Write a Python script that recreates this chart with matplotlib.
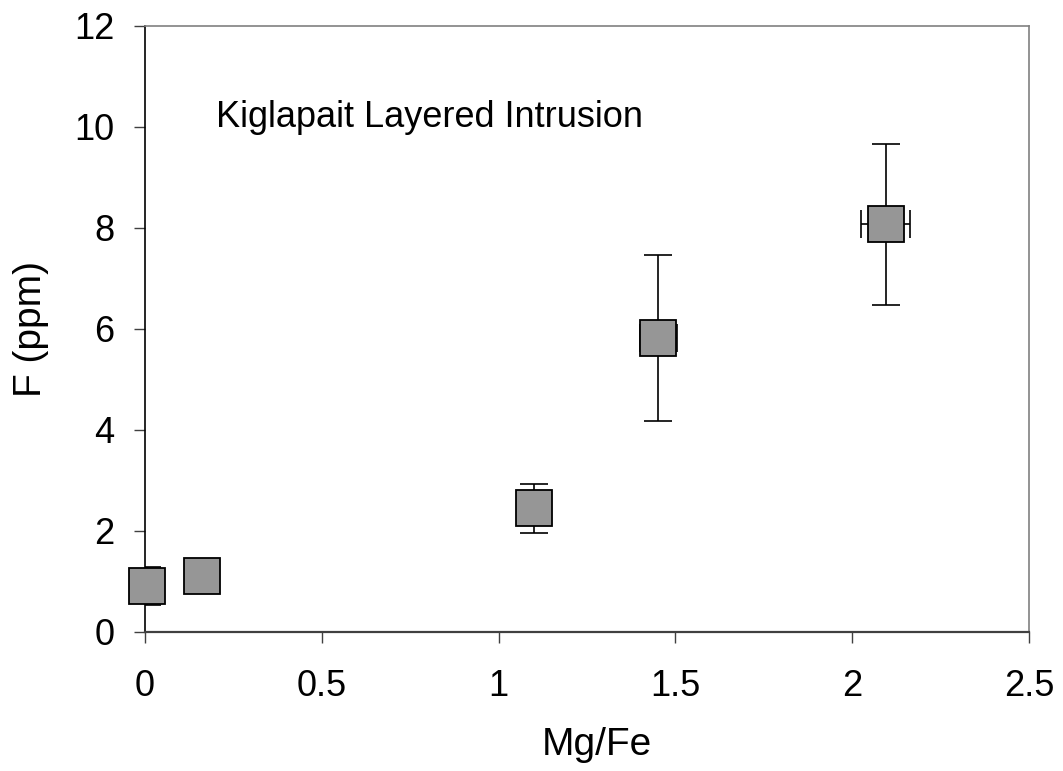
import matplotlib.pyplot as plt

plt.rcParams['font.family'] = ['Liberation Sans', 'DejaVu Sans']

# Kiglapait samples: Mg/Fe ratio vs fluorine content
mg_fe = [0.005, 0.16, 1.10, 1.452, 2.095]
f_ppm = [0.91, 1.11, 2.45, 5.82, 8.07]
f_err = [0.37, 0.0, 0.48, 1.64, 1.60]
mg_fe_err = [0.0, 0.0, 0.0, 0.052, 0.07]

x_ticks = [0, 0.5, 1, 1.5, 2, 2.5]
x_tick_labels = ['0', '0.5', '1', '1.5', '2', '2.5']
y_ticks = [0, 2, 4, 6, 8, 10, 12]

fig = plt.figure(figsize=(10.63, 7.71), dpi=100)
ax = fig.add_axes([0.1364, 0.1803, 0.8315, 0.786])

ax.errorbar(mg_fe, f_ppm, yerr=f_err, xerr=mg_fe_err, fmt='none',
            ecolor='black', elinewidth=1.2, capsize=10, capthick=1.2, zorder=2)
ax.plot(mg_fe, f_ppm, linestyle='none', marker='s', markersize=25.5,
        markerfacecolor='#969696', markeredgecolor='black',
        markeredgewidth=1.3, zorder=3, clip_on=False)

ax.text(0.2, 10.0, 'Kiglapait Layered Intrusion', fontsize=26,
        va='baseline', ha='left')

ax.set_xlim(0, 2.5)
ax.set_ylim(0, 12)
ax.set_xticks(x_ticks)
ax.set_xticklabels(x_tick_labels)
ax.set_yticks(y_ticks)
ax.tick_params(axis='both', labelsize=26, length=8, width=1, color='#404040')
ax.tick_params(axis='x', pad=19)
ax.tick_params(axis='y', pad=14)

ax.set_xlabel('Mg/Fe', fontsize=28)
ax.xaxis.set_label_coords(0.511, -0.157)
ax.set_ylabel('F (ppm)', fontsize=28, labelpad=18)

ax.spines['left'].set_color('black')
ax.spines['left'].set_linewidth(1.2)
ax.spines['bottom'].set_color('#404040')
ax.spines['bottom'].set_linewidth(1.6)
for side in ('top', 'right'):
    ax.spines[side].set_color('#808080')
    ax.spines[side].set_linewidth(1.2)

fig.savefig('out.png', dpi=100)
